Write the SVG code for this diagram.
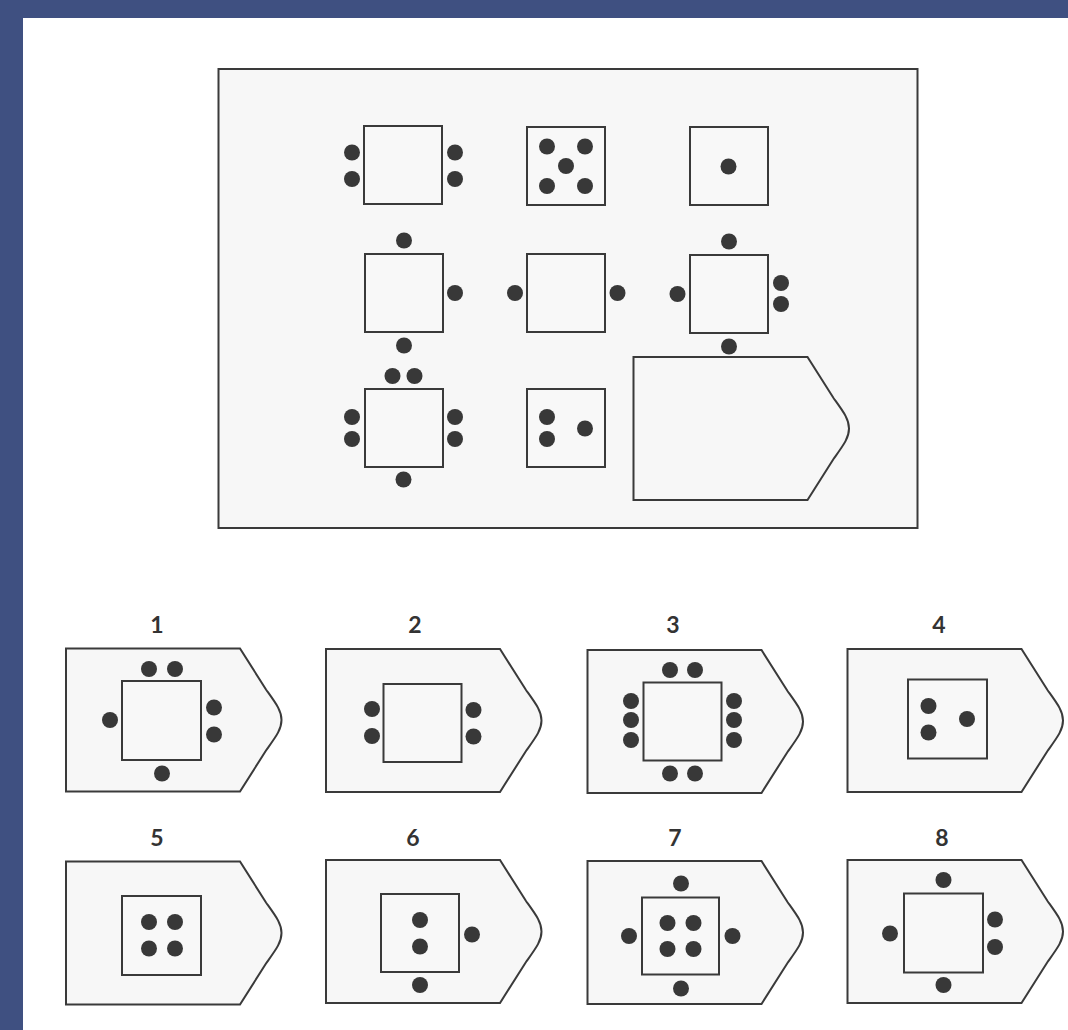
<svg xmlns="http://www.w3.org/2000/svg" xmlns:xlink="http://www.w3.org/1999/xlink" width="1068" height="1030" viewBox="0 0 1068 1030">
<style>
.ln{fill:#f7f7f7;stroke:#3a3a3a;stroke-width:2}
.sq{fill:#f8f8f8;stroke:#3a3a3a;stroke-width:2}
.d{fill:#383838}
.lbl{font-family:Lato,"Liberation Sans",sans-serif;font-weight:bold;font-size:23px;fill:#333;text-anchor:middle}
</style>
<defs>
<path id="pan" d="M0,0 H174 L200,41 C210,55 215.5,62 215.5,71.5 C215.5,81 210,88 200,102 L174,143 H0 Z"/>
</defs>
<rect x="0" y="0" width="1068" height="1030" fill="#ffffff"/>
<rect x="0" y="0" width="1068" height="18" fill="#3f5081"/>
<rect x="0" y="0" width="23" height="1030" fill="#3f5081"/>

<g id="matrix">
<rect class="ln" x="218.5" y="69" width="699" height="459"/>
<g id="cell1"><rect class="sq" x="364" y="126" width="78" height="78"/>
<circle class="d" cx="352" cy="152.5" r="8"/><circle class="d" cx="352" cy="179" r="8"/><circle class="d" cx="455" cy="152.5" r="8"/><circle class="d" cx="455" cy="179" r="8"/></g>
<g id="cell2"><rect class="sq" x="527" y="127" width="78" height="78"/>
<circle class="d" cx="547" cy="146.5" r="8"/><circle class="d" cx="585" cy="146.5" r="8"/><circle class="d" cx="566" cy="166" r="8"/><circle class="d" cx="547" cy="186" r="8"/><circle class="d" cx="585" cy="186" r="8"/></g>
<g id="cell3"><rect class="sq" x="690" y="127" width="78" height="78"/>
<circle class="d" cx="728.5" cy="166.5" r="8"/></g>
<g id="cell4"><rect class="sq" x="365" y="254" width="78" height="78"/>
<circle class="d" cx="404" cy="240.5" r="8"/><circle class="d" cx="404" cy="345.5" r="8"/><circle class="d" cx="455" cy="293" r="8"/></g>
<g id="cell5"><rect class="sq" x="527" y="254" width="78" height="78"/>
<circle class="d" cx="515" cy="293" r="8"/><circle class="d" cx="617.5" cy="293" r="8"/></g>
<g id="cell6"><rect class="sq" x="690" y="255" width="78" height="78"/>
<circle class="d" cx="729" cy="241.5" r="8"/><circle class="d" cx="729" cy="346.5" r="8"/><circle class="d" cx="677.5" cy="294" r="8"/><circle class="d" cx="781" cy="283" r="8"/><circle class="d" cx="781" cy="304" r="8"/></g>
<g id="cell7"><rect class="sq" x="365" y="389" width="78" height="78"/>
<circle class="d" cx="392.5" cy="376" r="8"/><circle class="d" cx="414.5" cy="376" r="8"/><circle class="d" cx="352" cy="417" r="8"/><circle class="d" cx="352" cy="439" r="8"/><circle class="d" cx="455" cy="417" r="8"/><circle class="d" cx="455" cy="439" r="8"/><circle class="d" cx="403.5" cy="479.5" r="8"/></g>
<g id="cell8"><rect class="sq" x="527" y="389" width="78" height="78"/>
<circle class="d" cx="547" cy="417" r="8"/><circle class="d" cx="547" cy="439" r="8"/><circle class="d" cx="585" cy="428.5" r="8"/></g>
<g id="cell9"><use xlink:href="#pan" class="ln" x="633.5" y="357"/></g>
</g>

<g id="opt1"><text class="lbl" x="157" y="633">1</text><use xlink:href="#pan" class="ln" x="66" y="648.5"/>
<rect class="sq" x="122" y="681" width="79" height="79"/>
<circle class="d" cx="149" cy="669" r="8"/><circle class="d" cx="175" cy="669" r="8"/><circle class="d" cx="110" cy="720" r="8"/><circle class="d" cx="214" cy="707.5" r="8"/><circle class="d" cx="214" cy="734.5" r="8"/><circle class="d" cx="162" cy="773.5" r="8"/></g>
<g id="opt2"><text class="lbl" x="415" y="633">2</text><use xlink:href="#pan" class="ln" x="326" y="649"/>
<rect class="sq" x="383.5" y="684" width="78" height="78"/>
<circle class="d" cx="372" cy="709" r="8"/><circle class="d" cx="372" cy="736" r="8"/><circle class="d" cx="473.5" cy="710" r="8"/><circle class="d" cx="473.5" cy="736.5" r="8"/></g>
<g id="opt3"><text class="lbl" x="673" y="633">3</text><use xlink:href="#pan" class="ln" x="587.5" y="650"/>
<rect class="sq" x="643.5" y="682.5" width="78" height="78"/>
<circle class="d" cx="670" cy="670" r="8"/><circle class="d" cx="695" cy="670" r="8"/><circle class="d" cx="631" cy="701" r="8"/><circle class="d" cx="631" cy="720" r="8"/><circle class="d" cx="631" cy="740" r="8"/><circle class="d" cx="734" cy="701" r="8"/><circle class="d" cx="734" cy="720" r="8"/><circle class="d" cx="734" cy="740" r="8"/><circle class="d" cx="670" cy="773.5" r="8"/><circle class="d" cx="695" cy="773.5" r="8"/></g>
<g id="opt4"><text class="lbl" x="939" y="633">4</text><use xlink:href="#pan" class="ln" x="847.5" y="649"/>
<rect class="sq" x="908" y="679.5" width="79" height="79"/>
<circle class="d" cx="928.5" cy="706" r="8"/><circle class="d" cx="928.5" cy="732.5" r="8"/><circle class="d" cx="967" cy="719" r="8"/></g>
<g id="opt5"><text class="lbl" x="157" y="846">5</text><use xlink:href="#pan" class="ln" x="66" y="861.5"/>
<rect class="sq" x="122" y="896" width="79" height="79"/>
<circle class="d" cx="149" cy="922" r="8"/><circle class="d" cx="175" cy="922" r="8"/><circle class="d" cx="149" cy="948.5" r="8"/><circle class="d" cx="175" cy="948.5" r="8"/></g>
<g id="opt6"><text class="lbl" x="413" y="846">6</text><use xlink:href="#pan" class="ln" x="326" y="860"/>
<rect class="sq" x="381" y="894" width="78" height="78"/>
<circle class="d" cx="420" cy="920" r="8"/><circle class="d" cx="420" cy="946.5" r="8"/><circle class="d" cx="472" cy="934.5" r="8"/><circle class="d" cx="420" cy="985" r="8"/></g>
<g id="opt7"><text class="lbl" x="675" y="846">7</text><use xlink:href="#pan" class="ln" x="587.5" y="861"/>
<rect class="sq" x="642" y="897.5" width="77" height="77"/>
<circle class="d" cx="681" cy="883.5" r="8"/><circle class="d" cx="681" cy="988.5" r="8"/><circle class="d" cx="629" cy="936" r="8"/><circle class="d" cx="732.5" cy="936" r="8"/><circle class="d" cx="667.5" cy="923" r="8"/><circle class="d" cx="693.5" cy="923" r="8"/><circle class="d" cx="667.5" cy="949" r="8"/><circle class="d" cx="693.5" cy="949" r="8"/></g>
<g id="opt8"><text class="lbl" x="942" y="846">8</text><use xlink:href="#pan" class="ln" x="847.5" y="860"/>
<rect class="sq" x="904" y="893.5" width="79" height="79"/>
<circle class="d" cx="943.5" cy="880" r="8"/><circle class="d" cx="943.5" cy="985" r="8"/><circle class="d" cx="890" cy="933.5" r="8"/><circle class="d" cx="995" cy="919.5" r="8"/><circle class="d" cx="995" cy="947" r="8"/></g>
</svg>
